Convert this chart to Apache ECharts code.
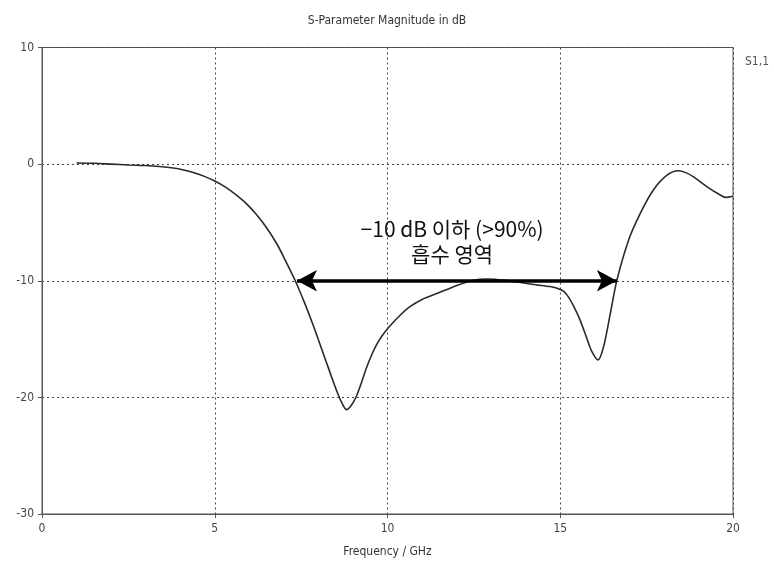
<!DOCTYPE html>
<html>
<head>
<meta charset="utf-8">
<script src="https://cdn.jsdelivr.net/npm/echarts@6/dist/echarts.min.js"></script>
<style>
  html, body { margin: 0; padding: 0; background: #fff; }
  #chart { width: 774px; height: 574px; }
</style>
</head>
<body>
<div id="chart"></div>
<script>
// S1,1 reflection magnitude (dB) versus frequency (GHz)
const freqGHz = [
  1.0, 1.5, 2.0, 2.5, 3.0, 3.4, 3.8, 4.1, 4.4, 4.7, 5.0, 5.3, 5.6, 5.9, 6.2, 6.5, 6.8, 7.05,
  7.33, 7.6, 7.86, 8.1, 8.34, 8.55, 8.7, 8.81, 8.95, 9.1, 9.25, 9.4, 9.55, 9.7, 9.85, 10.05,
  10.35, 10.66, 11.0, 11.43, 12.01, 12.49, 12.9, 13.36, 13.94, 14.3, 14.71, 14.95, 15.1,
  15.25, 15.39, 15.55, 15.68, 15.8, 15.92, 16.09, 16.25, 16.45, 16.64, 16.98, 17.32,
  17.7, 18.09, 18.42, 18.65, 18.86, 19.25, 19.63, 19.78, 20.0
];
const s11dB = [
  0.1, 0.07, 0.0, -0.07, -0.12, -0.2, -0.33, -0.5, -0.74, -1.05, -1.45, -1.95, -2.6, -3.35, -4.3, -5.45, -6.85, -8.3,
  -10.0, -11.9, -13.9, -15.9, -17.9, -19.6, -20.6, -21.05, -20.7, -19.9, -18.7, -17.4, -16.3, -15.4, -14.7, -13.95,
  -13.0, -12.2, -11.6, -11.1, -10.4, -9.95, -9.85, -9.95, -10.2, -10.35, -10.5, -10.68, -10.92,
  -11.45, -12.2, -13.2, -14.2, -15.2, -16.1, -16.8, -15.7, -12.8, -9.95, -6.5, -4.2,
  -2.2, -0.95, -0.57, -0.75, -1.1, -1.95, -2.65, -2.85, -2.75
];

// Absorption band marker: -10 dB threshold span
const bandLevel = -10;
const bandStart = 7.38;
const bandEnd = 16.64;
const bandLabelPos = [11.87, -6.6];
const bandLabel = ['−10 dB 이하 (>90%)', '흡수 영역'];

const xTicks = [0, 5, 10, 15, 20];
const yTicks = [-30, -20, -10, 0, 10];

const axisFont = 'Tahoma, "DejaVu Sans Condensed", "Liberation Sans Narrow", "DejaVu Sans", sans-serif';
const textColor = '#444';

const chart = echarts.init(document.getElementById('chart'), null, { renderer: 'canvas' });

chart.setOption({
  backgroundColor: '#fff',
  animation: false,
  title: {
    text: 'S-Parameter Magnitude in dB',
    left: 'center',
    top: 10,
    textStyle: { fontFamily: axisFont, fontSize: 12, fontWeight: 'normal', color: '#333' }
  },
  legend: {
    data: ['S1,1'],
    icon: 'none',
    right: 0,
    top: 50,
    itemWidth: 0,
    itemGap: 0,
    textStyle: { fontFamily: axisFont, fontSize: 12, color: '#555' }
  },
  grid: {
    left: 42, right: 41, top: 47.5, bottom: 60,
    show: true,
    borderColor: '#555',
    borderWidth: 1,
    backgroundColor: '#fff'
  },
  xAxis: {
    type: 'value',
    min: xTicks[0],
    max: xTicks[xTicks.length - 1],
    interval: 5,
    name: 'Frequency / GHz',
    nameLocation: 'middle',
    nameGap: 32,
    nameTextStyle: { fontFamily: axisFont, fontSize: 12, color: '#333' },
    axisLine: { show: true, onZero: false, lineStyle: { color: '#555', width: 1 } },
    axisTick: { show: true, length: 4, lineStyle: { color: '#555' } },
    axisLabel: { fontFamily: axisFont, fontSize: 12, color: textColor, margin: 9 },
    splitLine: { show: true, lineStyle: { color: '#444', type: [2, 3], width: 1 } }
  },
  yAxis: {
    type: 'value',
    min: yTicks[0],
    max: yTicks[yTicks.length - 1],
    interval: 10,
    axisLine: { show: true, onZero: false, lineStyle: { color: '#555', width: 1 } },
    axisTick: { show: true, length: 4, lineStyle: { color: '#555' } },
    axisLabel: {
      fontFamily: axisFont, fontSize: 12, color: textColor, margin: 8,
      verticalAlign: 'middle', padding: [0, 0, 7, 0]
    },
    splitLine: { show: true, lineStyle: { color: '#444', type: [2, 3], width: 1 } }
  },
  series: [{
    name: 'S1,1',
    type: 'line',
    data: freqGHz.map((f, i) => [f, s11dB[i]]),
    smooth: 0.3,
    showSymbol: false,
    lineStyle: { color: '#2a2a2a', width: 1.6 },
    itemStyle: { color: '#2a2a2a' },
    markLine: {
      silent: true,
      symbol: ['arrow', 'arrow'],
      symbolSize: [16, 20],
      label: { show: false },
      lineStyle: { color: '#000', width: 3.5, type: 'solid' },
      data: [[
        { coord: [bandStart, bandLevel] },
        { coord: [bandEnd, bandLevel] }
      ]]
    },
    markPoint: {
      silent: true,
      symbol: 'circle',
      symbolSize: 0,
      data: [{
        coord: bandLabelPos,
        label: {
          show: true,
          position: 'inside',
          formatter: bandLabel.join('\n'),
          fontFamily: '"Noto Sans CJK KR", sans-serif',
          fontSize: 21,
          fontWeight: 'normal',
          lineHeight: 25,
          color: '#111',
          align: 'center'
        }
      }]
    }
  }]
});
</script>
</body>
</html>
